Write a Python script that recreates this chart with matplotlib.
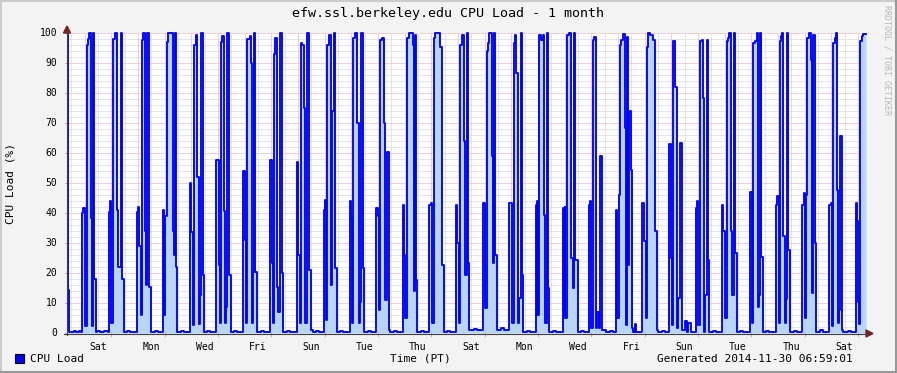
import matplotlib
matplotlib.use("Agg")
import matplotlib.pyplot as plt
from matplotlib.lines import Line2D
from matplotlib.patches import Polygon, Rectangle

# ---------------- data (hours since graph start, CPU load %) ----------------
# week 1
wk1_t = [0.0, 0.9, 2.1, 6.3, 8.1, 10.8, 12.6, 13.8, 14.7, 15.9, 18.3, 19.2, 20.1, 21.3, 22.2, 23.1, 23.9, 26.1,
         27.0, 29.7, 33.3, 36.9,
         37.8, 38.7, 39.9, 41.7, 42.9, 45.3, 46.2, 48.3, 49.5, 51.3, 54.0, 56.7,
         62.7, 63.9, 65.1, 66.2, 67.2, 68.7, 70.2, 71.4, 72.3, 73.8, 75.3, 79.2, 81.9,
         86.4, 87.6, 88.2, 90.3, 91.2, 95.1, 96.0, 97.2, 98.1, 99.3, 102.6, 105.3,
         110.7, 111.9, 113.1, 114.3, 115.8, 117.3, 118.8, 119.7, 120.9, 122.1, 123.3, 126.0, 128.7,
         134.4, 136.5, 137.7, 138.9, 139.8, 141.0, 141.9, 143.4, 144.3, 145.8, 147.3, 150.3, 153.0]
wk1_v = [100, 14.5, 0.3, 0.6, 0.3, 0.8, 0.3, 40, 41.7, 2.5, 96, 98, 100, 38.5, 2.5, 100, 18, 0.3,
         0.6, 0.3, 0.8, 0.3,
         40.5, 44, 3.3, 98, 100, 41, 22, 100, 18, 0.3, 0.6, 0.3,
         40.5, 42, 29, 6, 97.8, 100, 34, 16, 100, 15.5, 0.3, 0.8, 0.3,
         41, 6, 39, 97, 100, 34, 26, 100, 22, 0.3, 0.8, 0.3,
         50, 33.7, 2.8, 96, 99.5, 52, 3, 12.8, 100, 19.4, 0.3, 0.8, 0.3,
         57.8, 22.8, 3.3, 97, 99, 40.8, 3.3, 8.6, 100, 19.4, 0.3, 0.8, 0.3]
# week 2
wk2_t = [158.4, 159.9, 160.8, 162.3, 164.4, 165.3, 166.2, 167.4, 168.3, 169.5, 171.0, 174.6, 177.3,
         183.0, 184.5, 185.4, 186.3, 187.5, 189.0, 189.9, 192.0, 193.2, 194.7, 198.0, 200.7,
         206.7, 207.9, 209.4, 210.3, 211.8, 213.3, 214.5, 216.3, 217.8, 219.6, 221.4, 224.1, 226.8,
         231.0, 232.2, 233.4, 234.3, 235.8, 237.3, 238.5, 240.0, 241.5, 242.7, 245.7, 248.4,
         254.4, 255.6, 256.8, 257.7, 258.9, 261.0, 262.5, 264.0, 264.9, 266.4, 267.6, 270.9, 273.6,
         278.4, 279.6, 280.5, 282.0, 283.5, 285.0, 286.2, 288.0, 289.5, 291.0, 294.3, 297.0,
         302.4, 303.6, 304.5, 306.0, 307.5, 311.4, 312.0, 312.9, 314.1, 315.3, 318.6, 321.3]
wk2_v = [54, 31, 3.3, 98, 99, 90, 3.3, 20.5, 100, 20.5, 0.3, 0.8, 0.3,
         57.8, 23.3, 3.3, 93, 98.3, 15.5, 7, 100, 20, 0.3, 0.8, 0.3,
         57, 26, 3.3, 96.7, 96, 75, 3.3, 100, 21, 1, 0.3, 0.8, 0.3,
         41, 44.4, 4.4, 96, 99.4, 16, 74, 100, 21.7, 0.3, 0.8, 0.3,
         44, 38.3, 3.3, 98.3, 100, 70, 3.3, 10.5, 100, 21.7, 0.3, 0.8, 0.3,
         41.7, 39, 7.8, 97.8, 98.3, 70, 11, 60.3, 1.1, 0.3, 0.8, 0.3,
         42.8, 26, 5, 98.3, 100, 96, 14, 99.4, 17.8, 0.3, 0.8, 0.3]
# week 3
wk3_t = [326.1, 327.9, 328.8, 330.0, 331.5, 335.4, 337.5, 339.0, 342.0, 344.7,
         350.1, 351.3, 352.5, 354.0, 355.5, 357.0, 358.5, 360.0, 360.9, 362.1, 366.3, 369.0,
         374.7, 376.5, 377.7, 378.9, 380.1, 382.5, 383.7, 384.6, 385.5, 386.7, 390.6, 393.3,
         398.1, 400.5, 402.6, 403.5, 404.1, 405.6, 406.5, 408.3, 409.5, 410.7, 414.0, 416.7,
         422.1, 422.7, 423.3, 424.2, 425.1, 426.6, 428.1, 429.6, 430.5, 431.7, 432.9, 434.1, 437.4, 440.1,
         446.1, 447.3, 447.9, 448.5, 450.0, 451.5, 453.6, 455.4, 456.3, 457.5, 459.6, 462.6, 465.3,
         469.5, 471.0, 471.9, 473.1, 474.6, 476.1, 477.0, 478.5, 479.7, 481.2, 485.1, 488.7, 491.4]
wk3_v = [42.8, 43.3, 3.3, 98.3, 100, 95.5, 22.8, 0.3, 0.8, 0.3,
         42.8, 30, 3.3, 96, 99.4, 64, 19.4, 100, 23.3, 1.1, 1.5, 1.1,
         43.3, 8.3, 94, 96.7, 100, 59, 23.3, 100, 26, 1.1, 1.6, 1.1,
         43.3, 3.3, 96.7, 99.4, 86.7, 3.3, 11.7, 100, 19.4, 0.3, 0.8, 0.3,
         42.8, 6, 44, 6, 99.4, 97.8, 99.4, 39.4, 3.3, 100, 15, 0.3, 0.8, 0.3,
         41.7, 6, 42, 5, 99.4, 100, 25, 15, 100, 24.4, 0.3, 0.8, 0.3,
         42.8, 44, 1.7, 97.8, 98.6, 1.7, 7, 1.7, 59, 1.1, 0.3, 0.8, 0.3]
# week 4
wk4_t = [494.1, 495.3, 496.5, 497.7, 498.9, 500.7, 501.9, 502.8, 503.7, 504.9, 506.1, 507.3, 508.5, 509.7,
         511.2, 512.4,
         517.8, 519.6, 520.8, 521.7, 523.2, 524.7, 527.7, 529.2, 530.7, 531.9, 535.5, 538.2,
         542.1, 543.6, 544.5, 545.7, 547.5, 548.7, 550.2, 551.7, 553.2, 556.2, 557.7, 559.2, 561.3,
         565.8, 567.0, 568.2, 569.7, 571.2, 572.1, 573.0, 574.2, 575.7, 576.6, 578.1, 581.4, 584.1,
         589.2, 590.7, 592.2, 593.7, 595.2, 596.1, 597.6, 598.8, 600.0, 601.2, 603.3, 605.7, 608.4,
         614.4, 615.0, 616.2, 617.4, 618.9, 621.3, 621.9, 623.1, 623.7, 624.9, 626.1, 629.1, 631.8]
wk4_v = [41, 5, 46, 96, 97.8, 99.7, 68.3, 2.8, 98.6, 22.8, 74, 54.4, 1.7, 0.3,
         3, 0.3,
         43.3, 30.6, 5, 95.5, 100, 99.4, 97.8, 33.9, 1.1, 0.3, 0.8, 0.3,
         63, 25, 2.8, 97.2, 82, 1.7, 11.7, 63.3, 1.1, 3.9, 0.3, 3.3, 0.3,
         41.7, 44, 2.8, 97.2, 97.8, 78.3, 0.5, 12.8, 97.8, 24.4, 0.3, 0.8, 0.3,
         42.8, 33.9, 5, 97.2, 98.3, 100, 33.9, 12.8, 100, 26.7, 0.3, 0.8, 0.3,
         42.8, 47, 3.3, 96.7, 97.2, 100, 8.6, 12.8, 100, 25.2, 0.3, 0.8, 0.3]
# last days
wk5_t = [638.4, 639.3, 640.5, 641.7, 642.9, 643.8, 644.7, 646.2, 647.1, 648.3, 649.2, 650.7, 654.3, 657.0,
         661.8, 663.0, 664.5, 665.1, 666.3, 667.8, 669.3, 670.2, 671.7, 672.9, 674.4, 677.7, 680.4,
         686.1, 687.3, 688.8, 689.4, 690.9, 692.1, 693.0, 694.2, 695.1, 695.7, 697.2, 698.7, 702.9, 705.6,
         709.8, 710.7, 712.2, 713.1, 713.7, 715.2, 716.7, 719.1]
wk5_v = [42.6, 45.6, 3.3, 97.2, 99, 100, 32.2, 3.3, 11.4, 100, 27.8, 0.3, 0.8, 0.3,
         42.8, 46.7, 5, 46, 98.3, 100, 91, 13.3, 99.4, 30, 0.3, 1.1, 0.3,
         42.8, 43.3, 2.2, 96.7, 98.3, 100, 47.8, 3.3, 7.8, 65.6, 1.1, 0.3, 0.8, 0.3,
         43.3, 37.2, 10.5, 3, 97.2, 99, 99.7, 99.7]

day_labels = ['Sat', 'Mon', 'Wed', 'Fri', 'Sun', 'Tue', 'Thu', 'Sat',
              'Mon', 'Wed', 'Fri', 'Sun', 'Tue', 'Thu', 'Sat']
first_midnight = 15.8      # hours after graph start (Sat 00:00)
span_hours = 719.1
y_ticks = list(range(0, 101, 10))

title = "efw.ssl.berkeley.edu CPU Load - 1 month"
ylabel = "CPU Load (%)"
xlabel = "Time (PT)"
legend_label = "CPU Load"
generated = "Generated 2014-11-30 06:59:01"
watermark = "RRDTOOL / TOBI OETIKER"

t = wk1_t + wk2_t + wk3_t + wk4_t + wk5_t
v = wk1_v + wk2_v + wk3_v + wk4_v + wk5_v

# ---------------- figure ----------------
W, H = 897, 373
fig = plt.figure(figsize=(W / 100, H / 100), dpi=100, facecolor='#f3f3f3')
MONO = ['DejaVu Sans Mono']

def fx(x):
    return x / W

def fy(y):
    return 1 - y / H

# border shading
fig.add_artist(Line2D([0, 1], [fy(0.5), fy(0.5)], color='#cbcbcb', lw=1.5, transform=fig.transFigure))
fig.add_artist(Line2D([fx(0.5), fx(0.5)], [0, 1], color='#cbcbcb', lw=1.5, transform=fig.transFigure))
fig.add_artist(Line2D([0, 1], [fy(372), fy(372)], color='#999999', lw=2.2, transform=fig.transFigure))
fig.add_artist(Line2D([fx(896), fx(896)], [0, 1], color='#999999', lw=2.2, transform=fig.transFigure))

L, R, T, B = 67, 866, 33, 333
ax = fig.add_axes([fx(L), fy(B), (R - L) / W, (B - T) / H])
ax.set_facecolor('white')
ax.set_xlim(0, span_hours)
ax.set_ylim(0, 100)
for s in ax.spines.values():
    s.set_visible(False)
ax.set_xticks([])
ax.set_yticks([])

grid_minor = dict(color='#cccccc', lw=0.72, ls=(0, (1, 1)), zorder=1)
grid_major = dict(color='#e3a3a3', lw=0.72, ls=(0, (1, 1)), zorder=1)

# horizontal grid
for yv in range(2, 101, 2):
    if yv % 10:
        ax.axhline(yv, **grid_minor)
for yv in y_ticks[1:]:
    ax.axhline(yv, **grid_major)

# vertical grid: noon (minor), midnight (major)
h = first_midnight - 12
while h < span_hours:
    if h > 0:
        ax.axvline(h, **grid_minor)
    h += 24
h = first_midnight
while h < span_hours:
    ax.axvline(h, **grid_major)
    h += 24

# data
ax.fill_between(t, v, 0, step='post', color='#b7d6f6', lw=0, zorder=2)
ax.step(t, v, where='post', color='#0000ff', lw=1.35, zorder=3, clip_on=False)

# tick labels
tick_font = dict(family=MONO, size=7, color='black')
for yv in y_ticks:
    ax.text(-0.0075 * span_hours - 3.5, yv, str(yv), ha='right', va='center', **tick_font)
for i, lab in enumerate(day_labels):
    ax.text(first_midnight + 12 + 48 * i, -3.0, lab, ha='center', va='top', **tick_font)

# tick marks
for yv in y_ticks:
    ax.plot([-2.2, 0], [yv, yv], color='#e3a3a3', lw=0.72, clip_on=False, zorder=4)
h = first_midnight + 24
while h < span_hours:
    ax.plot([h, h], [0, -0.9], color='#e3a3a3', lw=0.8, clip_on=False, zorder=4)
    h += 48

# axes lines with arrows
axis_col = '#404040'
arrow_col = '#7f1f1f'
fig.add_artist(Line2D([fx(L), fx(L)], [fy(B + 2), fy(29)], color=axis_col, lw=0.8, transform=fig.transFigure))
fig.add_artist(Line2D([fx(L - 3), fx(870)], [fy(B + 0.5), fy(B + 0.5)], color=axis_col, lw=0.8, transform=fig.transFigure))
fig.add_artist(Polygon([[fx(L - 3.5), fy(33)], [fx(L + 3.5), fy(33)], [fx(L), fy(26)]], closed=True,
                       color=arrow_col, transform=fig.transFigure))
fig.add_artist(Polygon([[fx(866), fy(B - 3)], [fx(866), fy(B + 4)], [fx(873), fy(B + 0.5)]], closed=True,
                       color=arrow_col, transform=fig.transFigure))

# texts
fig.text(fx(448), fy(13), title, ha='center', va='center', family=MONO, size=9.6)
fig.text(fx(11), fy(183), ylabel, ha='center', va='center', rotation=90, family=MONO, size=8)
fig.text(fx(420), fy(358.5), xlabel, ha='center', va='center', family=MONO, size=8)
fig.text(fx(30), fy(358.5), legend_label, ha='left', va='center', family=MONO, size=8)
fig.text(fx(853), fy(358.5), generated, ha='right', va='center', family=MONO, size=8)
fig.text(fx(887), fy(5), watermark, ha='center', va='top', rotation=270, family=MONO, size=6,
         color='#b8b8b8')
fig.add_artist(Rectangle((fx(15), fy(363)), 9 / W, 9 / H, facecolor='#0000ff', edgecolor='black',
                         lw=0.8, transform=fig.transFigure))

fig.savefig('out.png', dpi=100, facecolor=fig.get_facecolor())
